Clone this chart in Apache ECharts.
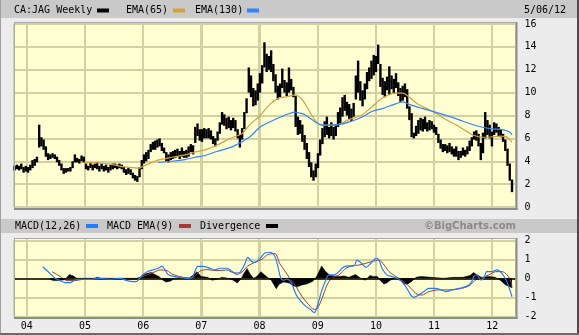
<!DOCTYPE html>
<html>
<head>
<meta charset="utf-8">
<script src="https://cdn.jsdelivr.net/npm/echarts@6/dist/echarts.min.js"></script>
<style>
  html, body { margin: 0; padding: 0; background: #ececec; }
  #chart { width: 579px; height: 335px; }
</style>
</head>
<body>
<div id="chart"></div>
<script>
// CA:JAG weekly price range, sampled every two weeks starting 2003-10-17
const priceStart = [2003, 9, 17];
const priceLow = [
  3.2,3.3,3.2,3.3,3.0,3.1,3.0,3.2,3.4,3.6, 3.9,5.2,5.3,5.0,4.4,4.1,4.2,4.3,4.2,3.9,
  3.6,3.2,2.9,3.0,3.1,3.1,3.4,3.9,3.9,3.8, 4.0,3.9,3.3,3.2,3.4,3.2,3.4,3.3,3.1,3.3,
  3.1,3.2,3.0,3.2,3.3,3.4,3.3,3.4,3.3,3.0, 2.8,2.9,2.8,2.5,2.3,2.2,2.6,3.3,3.8,4.0,
  4.2,4.8,5.0,5.0,5.2,5.3,4.9,4.7,4.0,3.9, 4.1,4.2,4.3,4.4,4.2,4.4,4.3,4.3,4.4,4.8,
  4.6,5.6,6.2,5.8,5.7,6.0,6.0,6.0,5.9,5.5, 5.3,5.8,6.4,7.2,7.1,6.8,6.9,6.7,6.9,6.6,
  6.0,5.2,5.9,6.8,8.2,10.0,9.6,8.8,8.9,9.3, 10.0,10.8,12.2,11.8,12.0,11.8,11.0,10.0,9.4,9.6,
  10.4,10.0,9.7,10.0,10.2,9.6,7.0,6.3,6.4,5.7, 5.0,4.2,3.5,2.6,2.3,2.6,3.4,4.5,5.5,6.1,
  6.3,6.0,6.2,5.9,6.2,7.0,7.3,7.9,8.4,8.0, 7.7,7.5,7.9,9.4,10.0,9.3,8.8,9.4,10.3,11.0,
  11.2,11.5,11.8,12.5,10.5,9.8,9.6,10.2,9.8,10.3, 9.9,10.4,9.7,9.2,9.3,9.6,8.6,7.6,6.1,6.0,
  6.2,6.4,6.7,6.6,6.8,6.6,6.7,6.8,6.5,6.3, 5.6,5.1,4.8,4.9,4.7,4.8,4.6,4.4,4.4,4.1,
  4.3,4.5,4.4,4.6,4.9,5.3,5.9,5.8,5.3,4.1, 4.7,6.0,6.3,6.0,5.3,6.3,6.5,6.2,6.1,5.7,
  4.9,3.6,2.3,1.3
];
const priceHigh = [
  3.6,3.7,3.6,3.8,3.5,3.6,3.5,3.7,4.1,4.2, 4.4,7.2,6.1,5.9,5.3,4.7,4.6,4.7,4.6,4.4,
  4.1,3.8,3.4,3.4,3.4,3.5,4.0,4.6,4.3,4.2, 4.5,4.4,3.8,3.6,3.9,3.7,3.8,3.9,3.6,3.8,
  3.6,3.7,3.5,3.7,3.8,3.8,3.7,3.8,3.7,3.5, 3.3,3.4,3.3,3.0,2.8,2.7,3.5,4.1,4.6,4.8,
  5.0,5.5,5.7,5.8,5.9,6.0,5.6,5.2,4.8,4.6, 4.8,4.9,5.0,5.1,4.9,5.2,4.9,5.0,5.3,5.5,
  5.4,7.0,7.3,6.8,6.8,6.9,6.8,6.9,6.7,6.2, 6.0,6.6,7.4,8.3,8.1,7.8,7.9,7.6,7.8,7.6,
  6.8,6.3,6.9,8.3,9.5,12.2,11.5,10.4,10.2,10.8, 11.7,12.4,14.4,13.4,13.2,13.7,12.5,11.6,10.6,10.8,
  12.1,11.1,10.9,12.2,11.2,10.5,9.7,7.9,7.6,7.2, 6.3,5.6,4.8,3.9,3.2,3.8,4.7,5.9,6.9,7.5,
  7.9,7.0,7.4,7.0,7.2,8.3,8.7,9.6,9.8,9.2, 9.0,8.6,9.1,11.5,12.8,11.0,10.2,10.8,11.8,12.2,
  12.8,13.3,13.2,14.2,12.5,11.3,11.0,11.4,12.3,11.5, 11.2,11.7,10.9,10.4,10.6,10.8,10.3,8.8,8.2,6.5,
  7.1,7.6,7.8,7.7,7.9,7.4,7.6,7.5,7.2,7.0, 6.4,5.9,5.5,5.5,5.4,5.6,5.3,5.1,5.3,4.9,
  4.9,5.2,5.0,5.3,5.8,6.1,6.6,6.7,6.4,5.6, 6.5,8.3,7.6,7.2,6.6,7.4,7.3,7.0,6.8,6.4,
  5.9,5.1,3.8,2.4
];

// Moving averages of the close
const ema65 = [
  ['2004-12-27',3.9],['2005-03-17',3.85],['2005-06-07',3.75],['2005-09-08',3.5],['2005-11-29',3.4],
  ['2006-01-30',3.75],['2006-04-04',4.1],['2006-07-01',4.35],['2006-09-21',4.55],['2006-11-22',4.8],
  ['2007-01-24',5.0],['2007-04-08',5.4],['2007-07-19',6.1],['2007-09-13',6.4],['2007-11-02',7.2],
  ['2008-01-05',8.0],['2008-03-08',9.0],['2008-04-27',9.5],['2008-06-23',9.65],['2008-08-12',9.8],
  ['2008-09-24',9.4],['2008-10-31',8.6],['2008-12-14',7.6],['2009-01-15',7.2],['2009-03-07',7.15],
  ['2009-05-08',7.2],['2009-07-09',7.6],['2009-10-04',8.05],['2009-12-06',8.75],['2010-02-09',9.5],
  ['2010-05-01',9.95],['2010-06-20',9.95],['2010-07-20',9.7],['2010-09-15',9.05],['2010-11-17',8.6],
  ['2011-01-19',8.15],['2011-03-22',7.6],['2011-05-24',7.15],['2011-07-26',6.6],['2011-09-01',6.3],
  ['2011-11-05',6.1],['2011-12-19',6.12],['2012-02-26',6.2],['2012-03-28',6.15],['2012-04-20',5.9],
  ['2012-05-04',5.65]
];
const ema130 = [
  ['2006-04-04',3.9],['2006-07-01',4.0],['2006-09-21',4.15],['2006-11-22',4.35],['2007-01-24',4.5],
  ['2007-04-08',4.85],['2007-07-19',5.3],['2007-11-02',6.15],['2008-01-05',7.0],['2008-03-08',7.45],
  ['2008-05-09',7.85],['2008-07-11',8.2],['2008-08-12',8.3],['2008-09-13',8.2],['2008-10-14',8.05],
  ['2008-12-14',7.45],['2009-01-15',7.2],['2009-03-07',7.15],['2009-05-08',7.2],['2009-07-09',7.4],
  ['2009-10-04',7.85],['2009-12-06',8.35],['2010-02-09',8.6],['2010-03-31',8.85],['2010-05-01',9.0],
  ['2010-06-20',9.2],['2010-08-02',8.95],['2010-10-22',8.6],['2011-01-19',8.25],['2011-04-11',7.9],
  ['2011-07-01',7.5],['2011-09-26',7.1],['2011-12-19',6.85],['2012-03-10',6.75],['2012-04-20',6.55],
  ['2012-05-04',6.3]
];

// MACD(12,26), its 9-period EMA, and the divergence between them
const macdLine = [
  ['2004-04-10',0.61],['2004-05-26',0.26],['2004-06-27',0.0],['2004-07-28',-0.12],['2004-08-28',-0.23],
  ['2004-09-28',-0.23],['2004-10-30',-0.09],['2004-11-30',-0.05],['2005-02-01',-0.06],['2005-04-05',0.0],
  ['2005-06-07',-0.05],['2005-08-08',0.0],['2005-09-21',-0.12],['2005-10-30',-0.18],['2005-11-23',-0.15],
  ['2005-12-12',0.02],['2005-12-31',0.2],['2006-02-01',0.37],['2006-03-04',0.44],['2006-04-04',0.53],
  ['2006-04-29',0.63],['2006-05-18',0.44],['2006-06-06',0.2],['2006-07-07',0.1],['2006-08-20',0.05],
  ['2006-10-03',0.0],['2006-11-03',0.02],['2006-11-22',0.37],['2006-12-10',0.63],['2007-01-10',0.63],
  ['2007-02-24',0.53],['2007-03-27',0.44],['2007-04-27',0.53],['2007-06-10',0.53],['2007-07-12',0.37],
  ['2007-08-12',0.2],['2007-08-31',0.3],['2007-10-01',0.75],['2007-10-20',1.1],['2007-11-13',0.88],
  ['2007-12-02',0.84],['2008-01-04',1.05],['2008-02-04',1.33],['2008-03-06',1.37],['2008-04-07',1.15],
  ['2008-04-26',0.6],['2008-05-14',0.0],['2008-06-01',-0.1],['2008-06-20',-0.05],['2008-07-06',-0.09],
  ['2008-07-25',-0.35],['2008-08-19',-0.88],['2008-09-19',-1.23],['2008-10-20',-1.49],['2008-11-20',-1.67],
  ['2008-12-09',-1.81],['2008-12-21',-1.67],['2009-01-09',-1.14],['2009-01-27',-0.61],['2009-02-21',-0.09],
  ['2009-03-12',0.18],['2009-04-12',0.18],['2009-05-14',0.35],['2009-06-14',0.61],['2009-07-16',0.65],
  ['2009-08-16',0.65],['2009-09-04',0.96],['2009-09-29',0.82],['2009-10-30',0.58],['2009-11-30',0.79],
  ['2010-01-01',1.05],['2010-01-20',0.96],['2010-02-08',0.53],['2010-03-11',0.18],['2010-04-11',0.09],
  ['2010-05-13',0.0],['2010-06-13',-0.18],['2010-07-14',-0.53],['2010-08-08',-0.88],['2010-08-27',-1.0],
  ['2010-09-27',-0.88],['2010-10-29',-0.7],['2010-11-29',-0.53],['2011-01-12',-0.53],['2011-02-13',-0.61],
  ['2011-03-16',-0.7],['2011-04-23',-0.61],['2011-06-06',-0.53],['2011-07-19',-0.44],['2011-08-20',-0.26],
  ['2011-09-08',0.09],['2011-09-26',0.18],['2011-10-22',-0.09],['2011-11-09',0.0],['2011-11-28',0.35],
  ['2011-12-29',0.35],['2012-01-30',0.44],['2012-03-02',0.26],['2012-04-02',-0.18],['2012-04-20',-0.6],
  ['2012-05-04',-0.97]
];
const macdSignal = [
  ['2004-06-08',0.35],['2004-07-28',0.1],['2004-09-10',-0.12],['2004-10-30',-0.12],['2004-12-20',-0.05],
  ['2005-04-05',0.0],['2005-10-11',-0.05],['2005-11-23',-0.05],['2005-12-31',0.1],['2006-03-04',0.3],
  ['2006-04-17',0.44],['2006-05-31',0.4],['2006-07-07',0.2],['2006-09-08',0.05],['2006-11-03',0.0],
  ['2006-12-22',0.37],['2007-02-05',0.46],['2007-04-08',0.4],['2007-06-10',0.44],['2007-07-18',0.3],
  ['2007-08-31',0.28],['2007-10-20',0.65],['2007-12-02',0.84],['2008-01-16',1.0],['2008-02-23',1.25],
  ['2008-04-07',1.3],['2008-05-09',0.75],['2008-06-10',0.37],['2008-07-05',0.05],['2008-08-18',-0.44],
  ['2008-09-24',-0.96],['2008-11-06',-1.4],['2008-12-08',-1.63],['2008-12-27',-1.6],['2009-01-28',-1.05],
  ['2009-02-28',-0.35],['2009-04-01',0.02],['2009-05-15',0.18],['2009-06-27',0.53],['2009-08-04',0.65],
  ['2009-09-17',0.7],['2009-10-30',0.79],['2009-12-06',0.88],['2010-01-20',0.96],['2010-02-21',0.7],
  ['2010-03-24',0.35],['2010-05-07',0.09],['2010-06-26',-0.18],['2010-08-09',-0.53],['2010-09-16',-0.84],
  ['2010-10-17',-0.88],['2010-11-30',-0.7],['2011-02-01',-0.61],['2011-04-04',-0.61],['2011-06-06',-0.56],
  ['2011-08-07',-0.4],['2011-09-21',-0.07],['2011-10-28',0.02],['2011-12-11',0.18],['2012-01-24',0.35],
  ['2012-03-02',0.35],['2012-04-03',0.18],['2012-04-28',-0.18],['2012-05-04',-0.5]
];
const divergence = [
  ['2004-05-26',-0.05],['2004-06-15',-0.12],['2004-07-20',-0.12],['2004-08-20',-0.08],['2004-09-10',0.05],
  ['2004-09-25',0.2],['2004-10-20',0.12],['2004-11-10',0.0],['2005-03-01',0.0],['2005-03-20',0.05],
  ['2005-04-10',0.0],['2005-11-20',0.0],['2005-12-10',0.05],['2006-01-20',0.25],['2006-02-20',0.3],
  ['2006-03-15',0.2],['2006-04-10',0.1],['2006-05-05',-0.1],['2006-05-25',-0.2],['2006-06-20',-0.15],
  ['2006-07-20',0.0],['2006-09-01',0.05],['2006-10-15',0.0],['2006-11-15',0.2],['2006-12-05',0.35],
  ['2006-12-30',0.1],['2007-02-10',0.05],['2007-03-10',-0.1],['2007-04-10',-0.05],['2007-05-10',0.05],
  ['2007-06-10',0.02],['2007-07-20',-0.1],['2007-08-15',-0.25],['2007-09-05',-0.05],['2007-09-25',0.25],
  ['2007-10-15',0.52],['2007-11-05',0.2],['2007-11-25',0.0],['2007-12-15',0.1],['2008-01-10',0.35],
  ['2008-01-30',0.2],['2008-02-20',0.05],['2008-03-15',-0.1],['2008-04-01',-0.35],['2008-04-15',-0.55],
  ['2008-05-05',-0.3],['2008-06-01',-0.2],['2008-07-06',-0.25],['2008-08-01',-0.4],['2008-08-25',-0.45],
  ['2008-09-25',-0.35],['2008-10-25',-0.3],['2008-12-01',-0.15],['2008-12-25',0.1],['2009-01-25',0.65],
  ['2009-02-20',0.35],['2009-03-20',0.15],['2009-05-15',0.1],['2009-06-15',0.12],['2009-07-15',0.05],
  ['2009-08-25',0.2],['2009-09-25',0.02],['2009-10-25',-0.1],['2009-11-25',0.15],['2009-12-15',0.1],
  ['2010-01-10',0.1],['2010-02-01',-0.15],['2010-02-20',-0.3],['2010-03-10',-0.25],['2010-04-01',-0.1],
  ['2010-05-01',0.0],['2010-06-01',-0.1],['2010-07-01',-0.3],['2010-07-20',-0.3],['2010-08-15',-0.15],
  ['2010-09-10',0.05],['2010-10-10',0.1],['2010-12-15',0.05],['2011-03-01',0.0],['2011-05-01',0.05],
  ['2011-07-01',0.05],['2011-08-15',0.15],['2011-09-05',0.3],['2011-09-25',0.2],['2011-10-25',0.05],
  ['2011-12-10',0.1],['2012-01-20',0.05],['2012-02-20',-0.1],['2012-03-25',-0.35],['2012-05-04',-0.5]
];

// Axis ticks
const priceTicks = { min: 0, max: 16, step: 2 };
const macdTicks = { min: -2, max: 2, step: 1 };
const yearTicks = [2004, 2005, 2006, 2007, 2008, 2009, 2010, 2011, 2012];
const dateRange = { from: [2003, 9, 13], to: [2012, 4, 26] };
const asOf = '5/06/12';

// ---- build the chart ----
const priceData = priceLow.map((lo, i) => {
  const d = new Date(priceStart[0], priceStart[1], priceStart[2] + i * 14);
  return [d.getTime(), lo, priceHigh[i]];
});
const xMin = new Date(...dateRange.from).getTime();
const xMax = new Date(...dateRange.to).getTime();
const yearStarts = yearTicks.map(y => new Date(y, 0, 1).getTime());

const MONO = 'DejaVu Sans Mono';
const GRID_C = '#d2d2a0';
const YELLOW = '#ffffd2';
const BAND = '#c9c9c9';
const ORANGE = '#d4a040';
const BLUE = '#2f86f6';
const MBLUE = '#1f7dff';
const MRED = '#a23a32';

const P = { left: 14, right: 515.5 };
const PANELS = [[22, 208], [238, 317]];
const chart = echarts.init(document.getElementById('chart'), null, { renderer: 'canvas' });

function timeAxis(gridIndex, showLabels) {
  return {
    type: 'time', gridIndex, min: xMin, max: xMax,
    axisTick: { show: false },
    axisLine: { show: true, lineStyle: { color: 'rgba(0,0,0,0)' } },
    axisLabel: {
      show: showLabels, margin: 5, color: '#000', fontFamily: MONO, fontSize: 10,
      formatter: v => String(new Date(v).getFullYear()).slice(2)
    },
    splitLine: { show: true, lineStyle: { color: GRID_C, width: 2 } }
  };
}
function valueAxis(gridIndex, t) {
  return {
    type: 'value', gridIndex, position: 'right', min: t.min, max: t.max, interval: t.step,
    axisLine: { show: false }, axisTick: { show: false },
    axisLabel: { margin: 9, color: '#000', fontFamily: MONO, fontSize: 10 },
    splitLine: { lineStyle: { color: GRID_C, width: 2 } }
  };
}
// year gridlines as thin full-height bars beneath the price bars
function yearBars(axisIndex, t) {
  return {
    name: 'years' + axisIndex, type: 'custom', xAxisIndex: axisIndex, yAxisIndex: axisIndex, z: 2,
    encode: { x: 0, y: [1, 2] },
    data: yearStarts.map(ts => [ts, t.min, t.max]),
    renderItem: (params, api) => {
      const ts = api.value(0);
      const top = api.coord([ts, api.value(2)]);
      const bot = api.coord([ts, api.value(1)]);
      return {
        type: 'rect',
        shape: { x: Math.round(top[0]) - 1, y: top[1] - 2, width: 2, height: bot[1] - top[1] + 3 },
        style: { fill: GRID_C }
      };
    }
  };
}
function rect(x, y, w, h, fill, z) {
  return { type: 'rect', z, silent: true, shape: { x, y, width: w, height: h }, style: { fill } };
}
function label(x, y, text, extra) {
  return { type: 'text', z: 50, silent: true, x, y,
           style: Object.assign({ text, fill: '#000', font: '10px "' + MONO + '"', verticalAlign: 'middle' }, extra || {}) };
}
// panel frame: yellow field, light top/left edge, darker bottom/right shadow
function panel(y0, y1) {
  const w = P.right - P.left;
  return [
    rect(P.left, y0, w, y1 - y0, YELLOW, -10),
    rect(P.left, y0, w, 1, '#a8a8a8', 50),
    rect(P.left, y0, 1, y1 - y0, '#a8a8a8', 50),
    rect(P.left, y1, w + 2, 2, '#8c8c8c', 50),
    rect(P.right, y0, 2, y1 - y0 + 2, '#8c8c8c', 50)
  ];
}
// legend rows: name followed by its colour swatch
const legendRows = [
  { x: 14, y: 10.5, name: 'CA:JAG Weekly', sw: 97, color: '#000' },
  { x: 126, y: 10.5, name: 'EMA(65)', sw: 173, color: ORANGE },
  { x: 195, y: 10.5, name: 'EMA(130)', sw: 247, color: BLUE },
  { x: 15, y: 226, name: 'MACD(12,26)', sw: 86, color: MBLUE },
  { x: 107, y: 226, name: 'MACD EMA(9)', sw: 179, color: MRED },
  { x: 200, y: 226, name: 'Divergence', sw: 266, color: '#000' }
];
function furniture(yearXs) {
  const yearRects = [];
  yearXs.filter(x => isFinite(x)).forEach(x => PANELS.forEach(([y0, y1]) =>
    yearRects.push(rect(x - 1, y0, 2, y1 - y0, GRID_C, -5))));
  const legendEls = [];
  legendRows.forEach(r => {
    legendEls.push(label(r.x, r.y, r.name));
    legendEls.push(rect(r.sw, r.y - 2, 12, 4, r.color, 50));
  });
  return [
    rect(0, 0, 579, 335, '#ececec', -30),
    rect(0, 0, 579, 18, BAND, -20),
    rect(0, 219, 579, 14, BAND, -20),
    ...panel(...PANELS[0]),
    ...panel(...PANELS[1]),
    ...legendEls,
    label(524, 10.5, asOf),
    label(516, 226, '©BigCharts.com',
          { fill: '#8a8a8a', font: 'bold 10px "DejaVu Sans"', align: 'right' }),
    rect(0, 0, 1, 335, '#a0a0a0', 60),
    rect(577, 0, 2, 335, '#4a4a4a', 60),
    rect(0, 333, 579, 2, '#6a6a6a', 60),
    ...yearRects
  ];
}

chart.setOption({
  animation: false,
  graphic: furniture([]),
  grid: [
    { left: P.left, right: 579 - P.right, top: 24, height: 183 },
    { left: P.left, right: 579 - P.right, top: 240.3, height: 76 }
  ],
  xAxis: [timeAxis(0, false), timeAxis(1, true)],
  yAxis: [valueAxis(0, priceTicks), valueAxis(1, macdTicks)],
  series: [
    yearBars(0, priceTicks),
    yearBars(1, macdTicks),
    {
      name: 'CA:JAG Weekly', type: 'custom', xAxisIndex: 0, yAxisIndex: 0, z: 3,
      encode: { x: 0, y: [1, 2] },
      data: priceData,
      renderItem: (params, api) => {
        const t = api.value(0);
        const top = api.coord([t, api.value(2)]);
        const bot = api.coord([t, api.value(1)]);
        return {
          type: 'rect',
          shape: { x: top[0] - 1.2, y: top[1], width: 2.4, height: Math.max(1, bot[1] - top[1]) },
          style: { fill: '#000' }
        };
      }
    },
    { name: 'EMA(65)', type: 'line', xAxisIndex: 0, yAxisIndex: 0, data: ema65, showSymbol: false,
      smooth: 0.3, lineStyle: { color: ORANGE, width: 1.2 }, z: 4 },
    { name: 'EMA(130)', type: 'line', xAxisIndex: 0, yAxisIndex: 0, data: ema130, showSymbol: false,
      smooth: 0.3, lineStyle: { color: BLUE, width: 1.2 }, z: 4 },
    { name: 'Divergence', type: 'line', xAxisIndex: 1, yAxisIndex: 1, data: divergence, showSymbol: false,
      lineStyle: { width: 0.5, color: '#000' }, areaStyle: { color: '#000', opacity: 1 }, z: 3,
      markLine: { silent: true, symbol: 'none', label: { show: false }, animation: false,
                  lineStyle: { color: '#000', width: 1.5, type: 'solid' }, data: [{ yAxis: 0 }] } },
    { name: 'MACD EMA(9)', type: 'line', xAxisIndex: 1, yAxisIndex: 1, data: macdSignal, showSymbol: false,
      smooth: 0.3, lineStyle: { color: MRED, width: 1 }, z: 4 },
    { name: 'MACD(12,26)', type: 'line', xAxisIndex: 1, yAxisIndex: 1, data: macdLine, showSymbol: false,
      smooth: 0.3, lineStyle: { color: MBLUE, width: 1.2 }, z: 5 }
  ]
});

// year gridlines also placed through the time axis scale
const yearXs = yearStarts.map(t => Math.round(chart.convertToPixel({ xAxisIndex: 0 }, t)));
chart.setOption({ graphic: furniture(yearXs) });
</script>
</body>
</html>
